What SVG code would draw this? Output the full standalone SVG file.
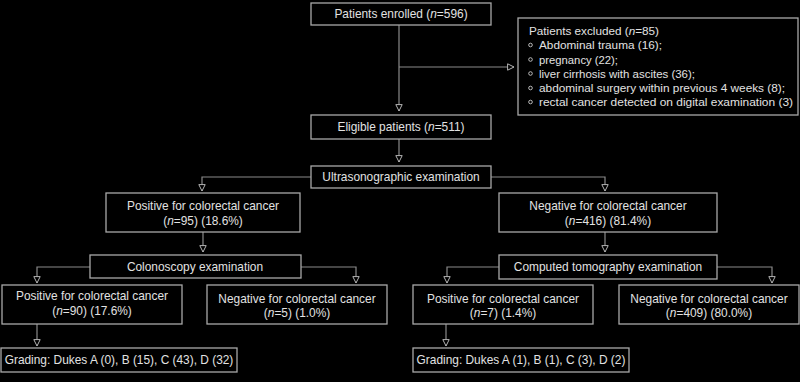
<svg xmlns="http://www.w3.org/2000/svg" width="800" height="382" viewBox="0 0 800 382">
<defs>
<marker id="arr" viewBox="0 0 10 10" refX="9" refY="5" markerWidth="9" markerHeight="8" markerUnits="userSpaceOnUse" orient="auto">
<polygon points="1,1 9,5 1,9" fill="#000" stroke="#bbb" stroke-width="1.2"/>
</marker>
<style>
.box{fill:#000;stroke:#a8a8a8;stroke-width:1.3}
.t{font-family:"Liberation Sans",Arial,sans-serif;font-size:11.9px;fill:#e2e2e2}
.e{font-size:11.5px}
.c{text-anchor:middle}
.ln{fill:none;stroke:#8a8a8a;stroke-width:1.2}
.b{fill:none;stroke:#ccc;stroke-width:0.9}
</style>
</defs>
<rect width="800" height="382" fill="#000"/>
<g id="connectors">
<path class="ln" d="M399,25 V111" marker-end="url(#arr)"/>
<path class="ln" d="M399,67 H514" marker-end="url(#arr)"/>
<path class="ln" d="M399,139 V162" marker-end="url(#arr)"/>
<path class="ln" d="M311,177 H202 V191" marker-end="url(#arr)"/>
<path class="ln" d="M491,177 H605 V191" marker-end="url(#arr)"/>
<path class="ln" d="M203,232 V252" marker-end="url(#arr)"/>
<path class="ln" d="M605,232 V252" marker-end="url(#arr)"/>
<path class="ln" d="M90,267 H37 V283" marker-end="url(#arr)"/>
<path class="ln" d="M301,267 H356 V283" marker-end="url(#arr)"/>
<path class="ln" d="M499,267 H447 V283" marker-end="url(#arr)"/>
<path class="ln" d="M717,267 H772 V283" marker-end="url(#arr)"/>
<path class="ln" d="M37,324 V346" marker-end="url(#arr)"/>
<path class="ln" d="M446,324 V346" marker-end="url(#arr)"/>
</g>
<g id="enrolled">
<rect class="box" x="311" y="3" width="180" height="22"/>
<text class="t c" x="401" y="18">Patients enrolled (<tspan font-style="italic">n</tspan>=596)</text>
</g>
<g id="excluded">
<rect class="box" x="518" y="18" width="280" height="97"/>
<text class="t e" x="529" y="35" textLength="130" lengthAdjust="spacingAndGlyphs">Patients excluded (<tspan font-style="italic">n</tspan>=85)</text>
<circle class="b" cx="530.5" cy="45" r="1.8"/>
<circle class="b" cx="530.5" cy="59.5" r="1.8"/>
<circle class="b" cx="530.5" cy="73.5" r="1.8"/>
<circle class="b" cx="530.5" cy="88" r="1.8"/>
<circle class="b" cx="530.5" cy="102" r="1.8"/>
<text class="t e" x="539" y="49" textLength="123" lengthAdjust="spacingAndGlyphs">Abdominal trauma (16);</text>
<text class="t e" x="539" y="63.5" textLength="79" lengthAdjust="spacingAndGlyphs">pregnancy (22);</text>
<text class="t e" x="539" y="77.5" textLength="156" lengthAdjust="spacingAndGlyphs">liver cirrhosis with ascites (36);</text>
<text class="t e" x="539" y="92" textLength="246" lengthAdjust="spacingAndGlyphs">abdominal surgery within previous  4 weeks (8);</text>
<text class="t e" x="539" y="106" textLength="254" lengthAdjust="spacingAndGlyphs">rectal cancer detected on digital examination (3)</text>
</g>
<g id="eligible">
<rect class="box" x="311" y="115" width="180" height="24"/>
<text class="t c" x="401" y="131">Eligible patients (<tspan font-style="italic">n</tspan>=511)</text>
</g>
<g id="ultrasono">
<rect class="box" x="311" y="166" width="180" height="22"/>
<text class="t c" x="401" y="181">Ultrasonographic examination</text>
</g>
<g id="pos1">
<rect class="box" x="106" y="193" width="194" height="39"/>
<text class="t c" x="203" y="210">Positive for colorectal cancer</text>
<text class="t c" x="203" y="225">(<tspan font-style="italic">n</tspan>=95) (18.6%)</text>
</g>
<g id="neg1">
<rect class="box" x="499" y="193" width="218" height="39"/>
<text class="t c" x="608" y="210">Negative for colorectal cancer</text>
<text class="t c" x="608" y="225">(<tspan font-style="italic">n</tspan>=416) (81.4%)</text>
</g>
<g id="colonoscopy">
<rect class="box" x="90" y="255" width="211" height="23"/>
<text class="t c" x="195" y="271">Colonoscopy examination</text>
</g>
<g id="ct">
<rect class="box" x="499" y="255" width="218" height="24"/>
<text class="t c" x="608" y="271">Computed tomography examination</text>
</g>
<g id="pos2">
<rect class="box" x="2" y="285" width="180" height="39"/>
<text class="t c" x="92" y="300">Positive for colorectal cancer</text>
<text class="t c" x="92" y="315">(<tspan font-style="italic">n</tspan>=90) (17.6%)</text>
</g>
<g id="neg2">
<rect class="box" x="207" y="285" width="180" height="39"/>
<text class="t c" x="297" y="303">Negative for colorectal cancer</text>
<text class="t c" x="297" y="317">(<tspan font-style="italic">n</tspan>=5) (1.0%)</text>
</g>
<g id="pos3">
<rect class="box" x="413" y="285" width="180" height="39"/>
<text class="t c" x="503" y="303">Positive for colorectal cancer</text>
<text class="t c" x="503" y="317">(<tspan font-style="italic">n</tspan>=7) (1.4%)</text>
</g>
<g id="neg3">
<rect class="box" x="619" y="285" width="180" height="39"/>
<text class="t c" x="709" y="303">Negative for colorectal cancer</text>
<text class="t c" x="709" y="317">(<tspan font-style="italic">n</tspan>=409) (80.0%)</text>
</g>
<g id="grading1">
<rect class="box" x="1" y="348" width="236" height="24"/>
<text class="t c" x="119" y="364">Grading: Dukes A (0), B (15), C (43), D (32)</text>
</g>
<g id="grading2">
<rect class="box" x="413" y="348" width="216" height="24"/>
<text class="t c" x="521" y="364">Grading: Dukes A (1), B (1), C (3), D (2)</text>
</g>
</svg>
